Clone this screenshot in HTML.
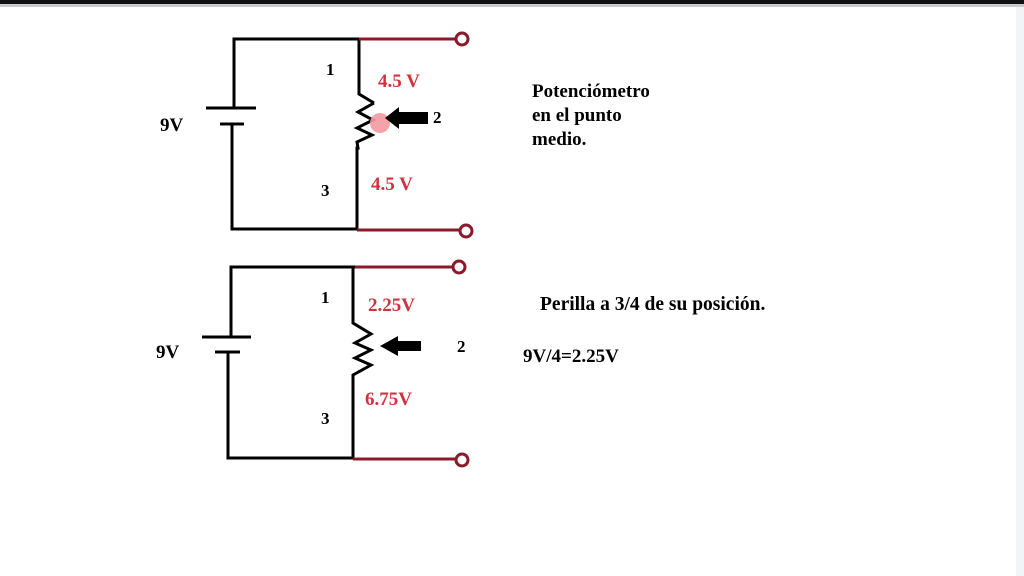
<!DOCTYPE html>
<html><head><meta charset="utf-8"><style>
html,body{margin:0;padding:0;background:#fff;width:1024px;height:576px;overflow:hidden}
svg{display:block}
text{font-family:"Liberation Serif",serif;font-weight:bold}
</style></head><body>
<svg width="1024" height="576" viewBox="0 0 1024 576">
<rect x="0" y="0" width="1024" height="4" fill="#111"/>
<rect x="0" y="4" width="1024" height="3" fill="#c8ccd2"/>
<rect x="1016" y="7" width="8" height="569" fill="#f3f4f7"/>
<g fill="none" stroke="#000" stroke-width="3">
<polyline points="234,108 234,39 359,39 359,94 374,103"/>
<polyline points="374,103 358,112 373,120 357,128 372,135 357,142 358,148 357,148 357,229 232,229 232,124"/>
<line x1="206" y1="108" x2="256" y2="108"/>
<line x1="220" y1="124" x2="244" y2="124"/>
<polyline points="231,337 231,267 355,267 353,267 353,323 371,334 355,343 371,350 355,358 371,365 353,375 353,458 228,458 228,352"/>
<line x1="202" y1="337" x2="251" y2="337"/>
<line x1="215" y1="352" x2="240" y2="352"/>
</g>
<g fill="none" stroke="#8b1a2a" stroke-width="3">
<line x1="359" y1="39" x2="456" y2="39"/>
<circle cx="462" cy="39" r="6"/>
<line x1="357" y1="230" x2="460" y2="230"/>
<circle cx="466" cy="231" r="6"/>
<line x1="355" y1="267" x2="453" y2="267"/>
<circle cx="459" cy="267" r="6"/>
<line x1="353" y1="459" x2="456" y2="459"/>
<circle cx="462" cy="460" r="6"/>
</g>
<circle cx="380" cy="123" r="10" fill="#f39a9f" opacity="0.9"/>
<polygon points="385,118 399,107 399,112 428,112 428,124 399,124 399,129" fill="#000"/>
<polygon points="380,346 398,336 398,341 421,341 421,351 398,351 398,356" fill="#000"/>
<g font-size="19" fill="#000">
<text x="160" y="131">9V</text>
<text x="326" y="75" font-size="17">1</text>
<text x="321" y="196" font-size="17">3</text>
<text x="433" y="123" font-size="17">2</text>
<text x="156" y="358">9V</text>
<text x="321" y="303" font-size="17">1</text>
<text x="321" y="424" font-size="17">3</text>
<text x="457" y="352" font-size="17">2</text>
<text x="532" y="97">Potenciómetro</text>
<text x="532" y="121">en el punto</text>
<text x="532" y="145">medio.</text>
<text x="540" y="310" font-size="19.5">Perilla a 3/4 de su posición.</text>
<text x="523" y="362">9V/4=2.25V</text>
</g>
<g font-size="19" fill="#d0323e">
<text x="378" y="87">4.5 V</text>
<text x="371" y="190">4.5 V</text>
<text x="368" y="311">2.25V</text>
<text x="365" y="405">6.75V</text>
</g>
</svg>
</body></html>
